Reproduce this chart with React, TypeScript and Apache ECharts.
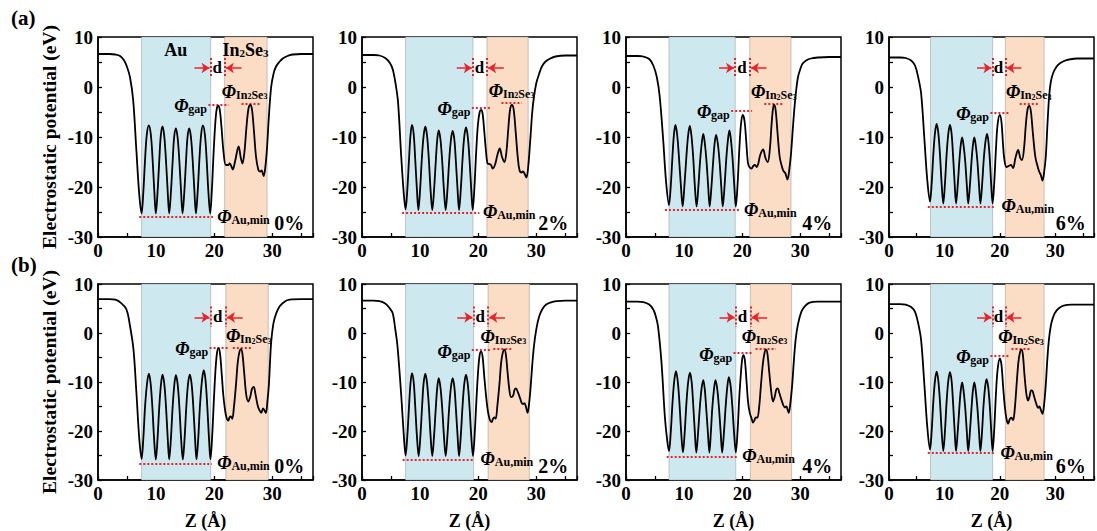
import React, { useEffect, useRef } from "react";
import * as echarts from "echarts";

// ---------- data (Z in Å, potential in eV) ----------
const curveA0: number[][] = [
  [0,6.6],[2,6.6],[3,6.5],[3.8,6.2],[4.5,5.3],[5.0,4.0],[5.5,2.0],[6.05,-2.6],[6.6,-12.6],[7.1,-21.5],[7.5,-25.3],
  [7.8,-21.0],[8.1,-14.5],[8.4,-9.5],[8.75,-7.7],[9.1,-9.6],[9.4,-14.6],[9.7,-21.0],[9.95,-25.3],
  [10.25,-21.0],[10.55,-14.6],[10.8,-9.8],[11.1,-7.9],[11.4,-9.8],[11.7,-14.7],[12.0,-21.0],[12.25,-25.3],
  [12.55,-21],[12.85,-14.8],[13.1,-10.1],[13.4,-8.3],[13.7,-10.1],[14.0,-14.8],[14.3,-21],[14.55,-25.3],
  [14.85,-21],[15.15,-14.8],[15.4,-10.1],[15.7,-8.3],[16.0,-10.1],[16.3,-14.8],[16.6,-21],[16.85,-25.3],
  [17.15,-21],[17.45,-14.5],[17.75,-9.5],[18.05,-7.7],[18.4,-9.6],[18.7,-14.6],[19.0,-21],[19.3,-25.3],
  [19.6,-20.5],[19.9,-13],[20.2,-7],[20.45,-4.3],[20.7,-3.8],[20.95,-4.5],[21.25,-8],[21.6,-13],[22.0,-15.6],
  [22.4,-15.6],[22.65,-15.3],[22.9,-15.7],[23.2,-16.5],[23.6,-14.8],[24.2,-11.9],[24.55,-14],[24.85,-15.3],
  [25.2,-13],[25.55,-8],[25.9,-4.3],[26.2,-3.6],[26.5,-4.5],[26.85,-9],[27.2,-14],[27.6,-16.6],[27.9,-16.9],[28.15,-16.7],[28.5,-17.8],
  [28.8,-16],[29.1,-12],[29.4,-6],[29.8,0],[30.2,2.6],[30.6,4],[31.2,5.0],[31.8,5.7],[32.6,6.2],[33.5,6.5],[35,6.6],[37,6.6]
];
const curveA2: number[][] = [
  [0,6.4],[2,6.4],[3,6.3],[4,5.8],[4.8,4.8],[5.3,3.5],[5.8,0.5],[6.2,-3],[6.75,-13.9],[7.2,-21.5],[7.5,-24.5],
  [7.8,-20.5],[8.1,-14.3],[8.35,-9.6],[8.6,-7.6],[8.9,-9.5],[9.15,-14.3],[9.45,-20.5],[9.7,-24.6],
  [10.0,-20.5],[10.3,-14.3],[10.6,-9.8],[10.9,-7.9],[11.2,-9.8],[11.5,-14.4],[11.8,-20.6],[12.1,-24.6],
  [12.4,-20.6],[12.7,-14.8],[12.95,-10.5],[13.2,-8.7],[13.5,-10.5],[13.8,-14.8],[14.1,-20.6],[14.4,-24.6],
  [14.7,-20.6],[15.0,-14.8],[15.3,-10.6],[15.6,-8.8],[15.9,-10.6],[16.15,-14.8],[16.45,-20.6],[16.7,-24.6],
  [17.0,-20.5],[17.3,-14.5],[17.6,-9.9],[17.9,-8.1],[18.2,-9.9],[18.5,-14.5],[18.8,-20.5],[19.05,-24.6],
  [19.35,-20],[19.65,-13],[19.95,-7.5],[20.25,-5],[20.5,-4.6],[20.75,-5.3],[21.05,-9],[21.35,-13],[21.6,-15.3],
  [21.9,-15.4],[22.2,-15.6],[22.5,-16.3],[22.9,-15.5],[23.3,-13.6],[23.7,-12.3],[24.1,-14],[24.5,-15],
  [24.85,-13],[25.2,-8],[25.5,-4.4],[25.8,-3.6],[26.1,-4.5],[26.45,-9],[26.8,-14],[27.1,-16.6],[27.45,-17.1],[27.7,-16.9],[28.0,-17.4],[28.3,-18.1],
  [28.6,-16],[29.0,-9.9],[29.3,-5],[29.6,-1.9],[30.0,0.8],[30.5,2.7],[31.0,4.2],[31.6,5.1],[32.4,5.7],[33.3,6.1],[35,6.3],[37,6.3]
];
const curveA4: number[][] = [
  [0,6.2],[2,6.2],[3,6.1],[4,5.6],[4.7,4.3],[5.3,2],[5.8,-1.9],[6.4,-10.6],[6.9,-19],[7.4,-23.6],
  [7.7,-19.8],[8.0,-13.8],[8.25,-9.5],[8.5,-7.6],[8.8,-9.5],[9.1,-13.8],[9.45,-19.8],[9.75,-23.9],
  [10.05,-19.8],[10.4,-13.8],[10.7,-9.6],[10.98,-7.8],[11.25,-9.6],[11.55,-13.8],[11.85,-19.8],[12.15,-23.9],
  [12.45,-20],[12.75,-14.8],[13.05,-11.1],[13.3,-9.4],[13.55,-11.1],[13.85,-14.8],[14.15,-20],[14.4,-23.9],
  [14.7,-20],[15.0,-14.9],[15.25,-11.3],[15.5,-9.6],[15.8,-11.3],[16.1,-14.9],[16.4,-20],[16.65,-23.9],
  [16.95,-20],[17.25,-14.5],[17.55,-10.5],[17.8,-8.7],[18.05,-10.5],[18.35,-14.5],[18.65,-20],[18.9,-23.9],
  [19.2,-19.5],[19.5,-12.5],[19.8,-7.3],[20.1,-5.6],[20.4,-6.8],[20.7,-11],[21.0,-15.3],[21.3,-16.1],[21.6,-16.3],
  [21.9,-15.8],[22.2,-15.6],[22.5,-16],[22.75,-15.4],[23.1,-13.6],[23.6,-12.5],[24.0,-14.2],[24.4,-15],
  [24.75,-12.5],[25.05,-7.5],[25.3,-4.3],[25.5,-3.6],[25.75,-4.6],[26.1,-9.5],[26.45,-14],[26.8,-15.8],[27.1,-16.8],[27.4,-17.2],[27.8,-18.5],
  [28.1,-16.5],[28.4,-13.3],[28.7,-8.5],[29.0,-4],[29.3,-0.5],[29.6,2],[30.0,3.6],[30.4,4.7],[31.0,5.3],[31.8,5.7],[33,5.9],[35,6.0],[37,6.0]
];
const curveA6: number[][] = [
  [0,5.9],[2,5.9],[3,5.8],[4,5.3],[4.7,4.3],[5.3,1.8],[5.8,-1.3],[6.4,-10.6],[6.9,-18.5],[7.4,-22.9],
  [7.7,-19.3],[8.0,-13.5],[8.3,-9.2],[8.6,-7.4],[8.9,-9.2],[9.2,-13.5],[9.5,-19.3],[9.8,-23.3],
  [10.1,-19.3],[10.4,-13.5],[10.7,-9.4],[11.0,-7.6],[11.3,-9.4],[11.55,-13.5],[11.85,-19.3],[12.1,-23.3],
  [12.4,-19.7],[12.7,-14.8],[12.95,-11.6],[13.2,-10.1],[13.45,-11.6],[13.75,-14.8],[14.05,-19.7],[14.3,-23.3],
  [14.6,-19.7],[14.9,-14.8],[15.15,-11.6],[15.4,-10.1],[15.65,-11.6],[15.95,-14.8],[16.25,-19.7],[16.5,-23.3],
  [16.8,-19.6],[17.1,-14.5],[17.4,-11],[17.7,-9.4],[17.95,-11],[18.2,-14.5],[18.45,-19.6],[18.7,-23.3],
  [19.0,-19],[19.3,-12.5],[19.6,-7.5],[20.0,-5.6],[20.3,-7],[20.55,-11],[20.8,-14.3],[21.2,-16],[21.6,-15.8],
  [22.0,-15.6],[22.4,-16.2],[22.8,-14.3],[23.3,-12.6],[23.7,-14.2],[24.0,-14.6],
  [24.35,-12.5],[24.7,-7.5],[25.0,-4.5],[25.3,-3.8],[25.6,-4.8],[25.95,-9],[26.4,-13.9],[26.8,-15.8],[27.1,-16.9],[27.4,-17.6],[27.7,-18.7],
  [28.0,-17],[28.3,-13.9],[28.6,-7.5],[28.9,-1.9],[29.2,1],[29.6,2.7],[30.2,4],[30.8,4.7],[31.6,5.2],[32.5,5.5],[34,5.7],[37,5.7]
];
const curveB0: number[][] = [
  [0,6.9],[2,6.9],[3,6.8],[4,6.1],[4.9,4.8],[5.5,1.5],[6.1,-3.3],[6.6,-12],[7.1,-21.5],[7.5,-25.7],
  [7.8,-21.5],[8.1,-15],[8.45,-10.2],[8.75,-8.3],[9.05,-10.2],[9.35,-15],[9.65,-21.5],[9.95,-25.8],
  [10.25,-21.5],[10.55,-15],[10.85,-10.3],[11.1,-8.5],[11.4,-10.3],[11.7,-15],[12.0,-21.5],[12.25,-25.8],
  [12.55,-21.5],[12.85,-15],[13.15,-10.4],[13.4,-8.6],[13.7,-10.4],[14.0,-15],[14.3,-21.5],[14.6,-25.8],
  [14.9,-21.5],[15.2,-15],[15.5,-10.3],[15.8,-8.5],[16.1,-10.3],[16.4,-15],[16.7,-21.5],[16.95,-25.8],
  [17.25,-21.5],[17.55,-14.8],[17.9,-9.6],[18.2,-7.6],[18.5,-9.6],[18.8,-14.8],[19.1,-21.5],[19.35,-25.8],
  [19.65,-21],[19.95,-13.5],[20.25,-7],[20.5,-3.9],[20.75,-3.1],[21.0,-4.2],[21.3,-8.5],[21.55,-12.5],[21.85,-15.6],
  [22.1,-17.2],[22.4,-17.9],[22.65,-17.2],[22.85,-17],[23.1,-17.5],[23.4,-15],
  [23.75,-10.5],[24.05,-6],[24.35,-3.8],[24.6,-3.3],[24.85,-4.2],[25.15,-8],[25.5,-12.5],[25.85,-14],[26.2,-13],[26.5,-11.4],[26.8,-11],
  [27.1,-12.5],[27.5,-14.9],[27.8,-15.8],[28.1,-16.3],[28.4,-15.4],[28.65,-15.8],[28.9,-16.3],
  [29.15,-14],[29.4,-10.7],[29.6,-6],[29.8,-1.9],[30.2,2],[30.7,4.1],[31.3,5.5],[32.1,6.4],[33,6.8],[35,6.9],[37,6.9]
];
const curveB2: number[][] = [
  [0,6.6],[2,6.6],[3,6.5],[4,6.0],[4.8,5.0],[5.3,4.0],[5.7,1],[6.1,-2.6],[6.75,-12.7],[7.2,-21],[7.5,-25],
  [7.8,-21],[8.1,-14.8],[8.35,-10.2],[8.6,-8.2],[8.9,-10.1],[9.15,-14.8],[9.45,-21],[9.75,-25.1],
  [10.05,-21],[10.35,-14.8],[10.6,-10.3],[10.9,-8.3],[11.2,-10.3],[11.5,-14.8],[11.8,-21],[12.1,-25.1],
  [12.4,-21],[12.7,-15.3],[12.95,-11.1],[13.2,-9.2],[13.5,-11.1],[13.8,-15.3],[14.1,-21],[14.4,-25.1],
  [14.7,-21],[15.0,-15.3],[15.3,-11.1],[15.6,-9.2],[15.9,-11.1],[16.15,-15.3],[16.45,-21],[16.7,-25.1],
  [17.0,-21],[17.3,-15],[17.6,-10.4],[17.9,-8.5],[18.2,-10.4],[18.5,-15],[18.8,-21],[19.1,-25.1],
  [19.4,-20.5],[19.7,-13.5],[20.0,-7.5],[20.25,-4.5],[20.5,-3.8],[20.75,-4.8],[21.05,-9],[21.4,-13.4],[21.7,-16.2],
  [22.0,-17.7],[22.3,-18.2],[22.55,-17.5],[22.75,-17.2],[23.0,-17.5],[23.3,-14.8],
  [23.65,-10.5],[23.95,-6],[24.25,-3.9],[24.5,-3.4],[24.75,-4.3],[25.05,-8],[25.35,-11.5],[25.65,-13.1],[26.0,-12.8],[26.25,-11.6],[26.5,-11.3],
  [26.8,-12],[27.2,-13.3],[27.5,-14.3],[27.7,-14.5],[27.95,-14.3],[28.2,-15],[28.5,-16.3],
  [28.75,-14.5],[29.0,-11.3],[29.3,-6.5],[29.6,-2.6],[30.0,0.8],[30.5,3.4],[31.1,5],[31.7,5.8],[32.4,6.2],[33.5,6.5],[35,6.6],[37,6.6]
];
const curveB4: number[][] = [
  [0,6.4],[2,6.4],[3,6.3],[4,5.8],[4.7,4.8],[5.1,3.5],[5.5,1.4],[6.1,-5.9],[6.7,-17.3],[7.1,-22],[7.4,-24.1],
  [7.7,-20.3],[8.0,-14.3],[8.3,-9.8],[8.6,-7.8],[8.9,-9.8],[9.2,-14.3],[9.5,-20.3],[9.8,-24.4],
  [10.1,-20.3],[10.4,-14.3],[10.7,-10],[11.0,-8.1],[11.3,-10],[11.55,-14.3],[11.85,-20.3],[12.1,-24.4],
  [12.4,-20.4],[12.7,-15.3],[13.0,-11.4],[13.3,-9.6],[13.55,-11.4],[13.8,-15.3],[14.1,-20.4],[14.35,-24.4],
  [14.6,-20.4],[14.85,-15.3],[15.15,-11.4],[15.4,-9.6],[15.7,-11.4],[16.0,-15.3],[16.3,-20.4],[16.55,-24.4],
  [16.85,-20.4],[17.15,-15],[17.45,-10.8],[17.7,-9.0],[18.0,-10.8],[18.3,-15],[18.6,-20.4],[18.9,-24.4],
  [19.2,-20],[19.5,-13],[19.8,-7.8],[20.0,-5.3],[20.2,-4.5],[20.45,-5.5],[20.75,-10],[21.0,-14],[21.3,-16.3],
  [21.6,-17.4],[21.85,-18.3],[22.1,-17.8],[22.35,-17.2],[22.6,-17.3],[22.9,-15.3],
  [23.2,-11],[23.55,-6.3],[23.85,-4],[24.1,-3.4],[24.35,-4.3],[24.65,-8],[25.0,-12],[25.3,-14],[25.6,-13],[25.85,-11.6],[26.1,-11.3],
  [26.4,-12.3],[26.8,-13.8],[27.1,-14.8],[27.35,-15.2],[27.6,-15],[27.8,-15.6],[28.0,-16.3],
  [28.3,-14.2],[28.6,-10.6],[28.9,-5.5],[29.2,-1.3],[29.6,1.8],[30.2,4.4],[30.8,5.5],[31.6,6.2],[33,6.4],[35,6.4],[37,6.4]
];
const curveB6: number[][] = [
  [0,5.9],[2,5.9],[3,5.8],[4,5.3],[4.7,4.3],[5.3,1.8],[5.8,-1.5],[6.4,-10.8],[6.9,-19],[7.4,-23.8],
  [7.7,-20],[8.0,-14],[8.3,-9.7],[8.6,-7.9],[8.9,-9.7],[9.2,-14],[9.5,-20],[9.8,-24.1],
  [10.1,-20],[10.4,-14],[10.7,-9.8],[11.0,-8.0],[11.3,-9.8],[11.55,-14],[11.85,-20],[12.1,-24.1],
  [12.4,-20.2],[12.7,-15.2],[12.95,-11.7],[13.2,-10.1],[13.45,-11.7],[13.75,-15.2],[14.05,-20.2],[14.3,-24.1],
  [14.6,-20.2],[14.9,-15.2],[15.15,-11.7],[15.4,-10.1],[15.65,-11.7],[15.95,-15.2],[16.25,-20.2],[16.5,-24.1],
  [16.8,-20],[17.05,-15],[17.35,-11],[17.6,-9.4],[17.9,-11],[18.2,-15],[18.45,-20],[18.7,-24.1],
  [19.0,-19.5],[19.3,-12.5],[19.6,-7.5],[20.0,-5.2],[20.3,-6.5],[20.6,-11],[20.9,-15],[21.2,-17.5],[21.5,-18.5],
  [21.8,-17.6],[22.1,-17.3],[22.4,-17.8],[22.7,-15.5],
  [23.0,-11],[23.35,-6],[23.65,-3.9],[23.9,-3.4],[24.15,-4.3],[24.45,-8.5],[24.8,-12.5],[25.1,-13.8],[25.4,-12.8],[25.65,-11.7],[25.9,-11.8],
  [26.2,-13],[26.6,-14.5],[26.9,-15.3],[27.15,-15],[27.4,-15.7],[27.7,-16.5],
  [28.0,-14.5],[28.3,-10.5],[28.6,-5],[28.9,-1],[29.3,2],[29.9,4],[30.6,5],[31.5,5.6],[33,5.8],[37,5.8]
];

const curves = [curveA0, curveA2, curveA4, curveA6, curveB0, curveB2, curveB4, curveB6];
const strainLabels = ["0%", "2%", "4%", "6%"];
const rowLabels = ["(a)", "(b)"];
const xTickLabels = [0, 10, 20, 30];
const yTickLabels = [-30, -20, -10, 0, 10];

// shaded layers [start, end] in Å
const auRegions = [[7.5,19.4],[7.5,19.1],[7.4,18.8],[7.5,18.7],[7.5,19.4],[7.5,19.2],[7.4,18.9],[7.5,18.7]];
const inRegions = [[21.8,29.1],[21.5,28.6],[21.3,28.4],[21.0,28.0],[22.0,29.3],[21.7,28.8],[21.4,28.5],[21.0,28.0]];
// reference levels [zStart, zEnd, eV]
const gapLines = [[19.0,22.5,-3.5],[18.9,22.1,-4.1],[18.1,21.7,-4.7],[18.3,21.7,-5.1],[19.2,22.4,-3.0],[18.9,22.1,-3.5],[18.5,21.9,-4.1],[18.3,21.7,-4.6]];
const inseLines = [[24.7,28.1,-3.3],[24.0,27.5,-3.1],[23.8,27.2,-3.4],[23.6,26.9,-3.4],[23.2,26.6,-3.1],[22.6,26.0,-3.2],[22.3,25.8,-3.2],[22.1,25.6,-3.3]];
const auMinLines = [[7.1,19.8,-26.0],[6.9,20.2,-25.1],[6.7,19.6,-24.6],[7.0,19.0,-23.9],[7.1,19.6,-26.6],[7.0,19.4,-25.8],[7.0,19.3,-25.2],[7.0,19.0,-24.5]];
const inseLabelZ = [21.4, 21.9, 21.6, 21.2, 22.1, 20.5, 20.0, 19.8];
const auMinLabelZ = [20.6, 20.9, 20.4, 20.4, 20.6, 20.5, 20.1, 20.2];

const FONT = '"Liberation Serif", "Times New Roman", serif';
const RED = "#e8232a";

function buildOption() {
  const colLeft = [98, 362, 626, 889];
  const rowTop = [37, 284];
  const grids: any[] = [];
  const xAxes: any[] = [];
  const yAxes: any[] = [];
  const series: any[] = [];
  const tok = (o: any) => ({ fontFamily: FONT, fontWeight: "bold", color: "#000", opacity: 1, textBorderWidth: 0, ...o });
  const rich = {
    phi: tok({ fontStyle: "italic", fontSize: 18, verticalAlign: "bottom", lineHeight: 18 }),
    sub: tok({ fontSize: 12, verticalAlign: "bottom", lineHeight: 11 }),
    ssub: tok({ fontSize: 8, verticalAlign: "bottom", lineHeight: 7 }),
    h: tok({ fontSize: 18, verticalAlign: "bottom", lineHeight: 18 }),
    hs: tok({ fontSize: 11, verticalAlign: "bottom", lineHeight: 12 }),
    d: tok({ fontSize: 17 }),
    p: tok({ fontSize: 20 }),
  };

  for (let i = 0; i < 8; i++) {
    const r = Math.floor(i / 4);
    const c = i % 4;
    const top = rowTop[r];
    grids.push({ left: colLeft[c], top, width: 215, height: r === 0 ? 200 : 199, show: true, borderColor: "#000", borderWidth: 1.5, backgroundColor: "transparent" });
    xAxes.push({
      gridIndex: i, type: "value", min: 0, max: 37, interval: 5,
      axisLine: { show: true, onZero: false, lineStyle: { color: "#000", width: 1.5 } },
      axisTick: { show: true, inside: true, length: 4, lineStyle: { color: "#000", width: 1.3 } },
      axisLabel: {
        color: "#000", fontFamily: FONT, fontWeight: "bold", fontSize: 19, margin: 4,
        formatter: (v: number) => (xTickLabels.indexOf(v) >= 0 ? String(v) : ""),
      },
      splitLine: { show: false },
      name: r === 1 ? "Z (Å)" : "",
      nameLocation: "middle", nameGap: 32,
      nameTextStyle: { color: "#000", fontFamily: FONT, fontWeight: "bold", fontSize: 18 },
    });
    yAxes.push({
      gridIndex: i, type: "value", min: -30, max: 10, interval: 5,
      axisLine: { show: true, onZero: false, lineStyle: { color: "#000", width: 1.5 } },
      axisTick: { show: true, inside: true, length: 4, lineStyle: { color: "#000", width: 1.3 } },
      axisLabel: {
        color: "#000", fontFamily: FONT, fontWeight: "bold", fontSize: 19, margin: 5,
        formatter: (v: number) => (yTickLabels.indexOf(v) >= 0 ? String(v) : ""),
      },
      splitLine: { show: false },
      name: c === 0 ? "Electrostatic potential (eV)" : "",
      nameLocation: "middle", nameGap: 39, nameRotate: 90,
      nameTextStyle: { color: "#000", fontFamily: FONT, fontWeight: "bold", fontSize: 19.5 },
    });

    const au = auRegions[i];
    const ins = inRegions[i];
    const gl = gapLines[i];
    const il = inseLines[i];
    const al = auMinLines[i];
    const base = { xAxisIndex: i, yAxisIndex: i, silent: true, animation: false };
    const vTop = r === 0 ? 5.8 : 5.4;
    const vBot = r === 0 ? 1.9 : 1.2;
    const vArr = r === 0 ? 3.8 : 3.2;

    series.push({
      ...base, type: "line", data: [], z: 1,
      markArea: {
        silent: true,
        data: [
          [{ xAxis: au[0], itemStyle: { color: "#cde9ef", borderColor: "rgba(150,150,150,0.5)", borderWidth: 1 } }, { xAxis: au[1] }],
          [{ xAxis: ins[0], itemStyle: { color: "#fbdcc4", borderColor: "rgba(150,150,150,0.5)", borderWidth: 1 } }, { xAxis: ins[1] }],
        ],
      },
    });
    series.push({
      ...base, type: "line", data: [], z: 4,
      markLine: {
        silent: true, symbol: ["none", "none"], label: { show: false },
        lineStyle: { color: RED, type: [2, 2], width: 2 },
        data: [
          [{ coord: [gl[0], gl[2]] }, { coord: [gl[1], gl[2]] }],
          [{ coord: [il[0], il[2]] }, { coord: [il[1], il[2]] }],
          [{ coord: [al[0], al[2]] }, { coord: [al[1], al[2]] }],
          [{ coord: [au[1], vTop] }, { coord: [au[1], vBot] }],
          [{ coord: [ins[0], vTop] }, { coord: [ins[0], vBot] }],
        ],
      },
    });
    series.push({
      ...base, type: "line", data: [], z: 4,
      markLine: {
        silent: true, symbol: ["none", "arrow"], symbolSize: 8, label: { show: false },
        lineStyle: { color: RED, type: "solid", width: 1.5 },
        data: [
          [{ coord: [au[1] - 2.8, vArr] }, { coord: [au[1] - 0.2, vArr] }],
          [{ coord: [ins[0] + 2.9, vArr] }, { coord: [ins[0] + 0.2, vArr] }],
        ],
      },
    });
    series.push({
      ...base, type: "line", data: curves[i], z: 5, smooth: 0.35, showSymbol: false,
      lineStyle: { color: "#000", width: 1.8 },
    });
    const texts: any[] = [
      { value: [(au[1] + ins[0]) / 2, vArr], label: { formatter: "{d|d}", align: "center", verticalAlign: "middle" } },
      { value: [gl[0] - 0.15, gl[2] - 0.4], label: { formatter: "{phi|Φ}{sub|gap}", align: "right", verticalAlign: "middle" } },
      { value: [inseLabelZ[i], il[2] + 2.3], label: { formatter: "{phi|Φ}{sub|In}{ssub|2}{sub|Se}{ssub|3}", align: "left", verticalAlign: "middle" } },
      { value: [auMinLabelZ[i], al[2]], label: { formatter: "{phi|Φ}{sub|Au,min}", align: "left", verticalAlign: "middle" } },
      { value: [35.6, -27.3], label: { formatter: "{p|" + strainLabels[c] + "}", align: "right", verticalAlign: "middle" } },
    ];
    if (i === 0) {
      texts.push({ value: [(au[0] + au[1]) / 2, 7.4], label: { formatter: "{h|Au}", align: "center", verticalAlign: "middle" } });
      texts.push({ value: [(ins[0] + ins[1]) / 2, 7.4], label: { formatter: "{h|In}{hs|2}{h|Se}{hs|3}", align: "center", verticalAlign: "middle" } });
    }
    series.push({
      ...base, type: "scatter", z: 6, symbol: "circle", symbolSize: 1,
      itemStyle: { color: "#000", opacity: 0 },
      label: { show: true, position: [0, 0], color: "#000", opacity: 1, textBorderWidth: 0, rich },
      emphasis: { disabled: true },
      data: texts,
    });
  }

  return {
    animation: false,
    backgroundColor: "#fff",
    grid: grids,
    xAxis: xAxes,
    yAxis: yAxes,
    series,
    graphic: [
      { type: "text", left: 11, top: 7, style: { text: rowLabels[0], font: 'bold 21px "Liberation Serif", serif', fill: "#000" } },
      { type: "text", left: 11, top: 254, style: { text: rowLabels[1], font: 'bold 21px "Liberation Serif", serif', fill: "#000" } },
    ],
  };
}

export default function App() {
  const ref = useRef<HTMLDivElement>(null);
  useEffect(() => {
    if (!ref.current) return;
    const chart = echarts.init(ref.current, null, { renderer: "svg" });
    chart.setOption(buildOption() as any);
    return () => chart.dispose();
  }, []);
  return <div ref={ref} style={{ position: "fixed", left: 0, top: 0, width: 1097, height: 531, background: "#fff" }} />;
}
